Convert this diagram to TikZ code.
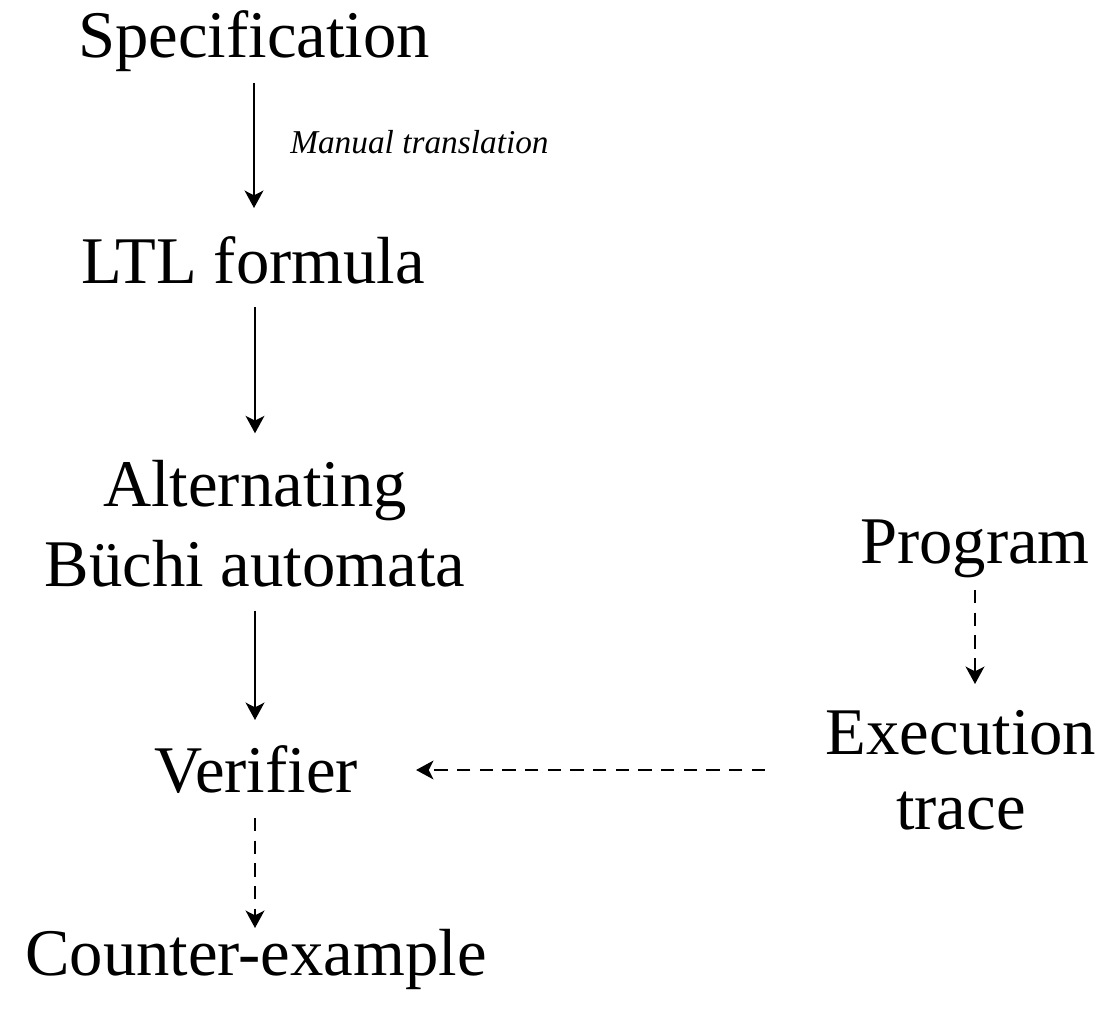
\documentclass[tikz,border=0pt]{standalone}
\usepackage{fontspec}
\setmainfont{Liberation Serif}
\usetikzlibrary{arrows.meta,calc}
\begin{document}
\begin{tikzpicture}[x=0.75pt,y=-0.75pt,
 lbl/.style={inner sep=0pt, font=\fontsize{50}{60}\selectfont, anchor=base},
 twoline/.style={lbl, align=center, anchor=center},
 small/.style={inner sep=0pt, font=\fontsize{25}{30}\selectfont\itshape, anchor=base west},
 arr/.style={line width=2pt, -{Stealth[length=13pt,width=14pt,inset=3.5pt]}},
 darr/.style={arr, dash pattern=on 10pt off 7pt}]
\useasboundingbox (0,0) rectangle (1114,1010);
\node[lbl] (spec) at (254,57) {Specification};
\node[small] (man) at (290,153) {Manual translation};
\node[lbl] (ltl) at (253,283) {LTL formula};
\node[twoline] (alt) at (255,524) {Alternating\\Büchi automata};
\node[lbl] (ver) at (256,792) {Verifier};
\node[lbl] (cex) at (256,975) {Counter-example};
\node[lbl] (prog) at (975,563) {Program};
\node[twoline, font=\fontsize{50}{56}\selectfont] (exe) at (961,770) {Execution\\trace};
\draw[arr] ($(spec.base)+(0,26)$) -- ($(ltl.base)+(1,-75)$);
\draw[arr] ($(ltl.base)+(2,24)$) -- ($(alt.north)+(0,-27)$);
\draw[arr] ($(alt.south)+(0,23)$) -- ($(ver.base)+(-1,-72)$);
\draw[darr] ($(ver.base)+(-1,26)$) -- ($(cex.base)+(-1,-47)$);
\draw[darr] ($(prog.base)+(0,27)$) -- ($(exe.north)+(14,-26)$);
\draw[darr] ($(exe.center)+(-196,0)$) -- ($(ver.base east)+(58,-22)$);
\end{tikzpicture}
\end{document}
